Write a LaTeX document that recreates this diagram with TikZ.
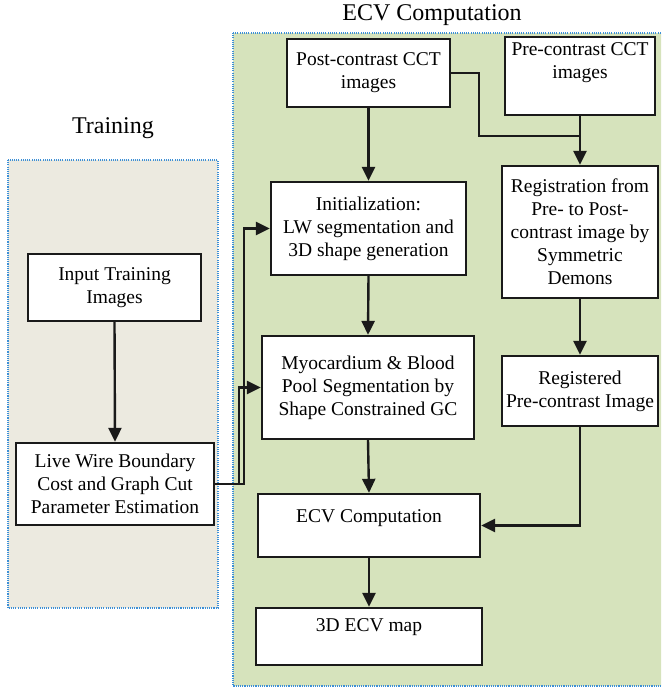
\documentclass[tikz,border=0pt]{standalone}
\usepackage{fontspec}
\setmainfont{Liberation Serif}
\usetikzlibrary{arrows.meta}
\definecolor{panelgreen}{HTML}{D6E3BC}
\definecolor{panelbeige}{HTML}{ECEAE0}
\definecolor{dotblue}{HTML}{3C8FD6}
\definecolor{ink}{HTML}{1A1A1A}
\tikzset{
  box/.style={draw=ink, line width=2.3pt, fill=white, align=center, inner sep=0pt,
    font=\fontsize{19.5}{23}\selectfont},
  txt/.style={inner sep=0pt, align=center, font=\fontsize{19.5}{23}\selectfont},
  ttl/.style={inner sep=0pt, font=\fontsize{24}{28}\selectfont},
  panel/.style={draw=dotblue, line width=1.4pt, dash pattern=on 1.1pt off 1.1pt},
  arr/.style={draw=ink, line width=2.4pt, -{Triangle[length=14pt,width=13pt]}},
  ln/.style={draw=ink, line width=2.4pt},
}
\begin{document}
\begin{tikzpicture}[x=1pt,y=-1pt]
\useasboundingbox (0,0) rectangle (661,687);
\clip (0,0) rectangle (661,687);
% panels
\path[panel, fill=panelbeige] (8,160) rectangle (218,608);
\path[panel, fill=panelgreen] (233,33) rectangle (664,686);
\node[ttl] (ttrain) at (113,128) {Training};
\node[ttl] (tecv) at (432,15) {ECV Computation};
% boxes
\node[box, minimum width=163, minimum height=68] (post) at (368.5,73) {Post-contrast CCT\\images};
\node[box, minimum width=150, minimum height=78] (pre) at (580,76) {Pre-contrast CCT\\images\\[8pt]};
\node[box, minimum width=195, minimum height=93] (init) at (368.5,228.5) {Initialization:\\LW segmentation and\\3D shape generation};
\node[box, minimum width=156, minimum height=132] (reg) at (580,232) {Registration from\\Pre- to Post-\\contrast image by\\Symmetric\\Demons};
\node[box, minimum width=212, minimum height=103] (myo) at (368,387.5) {Myocardium \& Blood\\Pool Segmentation by\\Shape Constrained GC};
\node[box, minimum width=156, minimum height=70] (regd) at (580,391) {Registered\\Pre-contrast Image};
\node[box, minimum width=222, minimum height=63] (ecv) at (369,525.5) {};
\node[txt] (ecvt) at ([yshift=-25]ecv.north) {ECV Computation};
\node[box, minimum width=226, minimum height=57] (map) at (369,636.5) {};
\node[txt] (mapt) at ([yshift=-20]map.north) {3D ECV map};
\node[box, minimum width=173, minimum height=67] (input) at (114.5,287.5) {Input Training\\Images};
\node[box, minimum width=198, minimum height=82] (lw) at (115,484) {Live Wire Boundary\\Cost and Graph Cut\\Parameter Estimation};
% connectors
\coordinate (pj) at (479,136);
\draw[arr] (post.south) -- (init.north);
\draw[ln] (post.east) -| (pj) -- (pj -| reg.north);
\draw[arr] (pre.south) -- (reg.north);
\draw[arr] (reg.south) -- (regd.north);
\draw[arr] (init.south) -- (myo.north);
\draw[arr] (myo.south) -- (ecv.north);
\draw[arr] (regd.south) |- (ecv.east);
\draw[arr] (ecv.south) -- (map.north);
\draw[arr] (input.south) -- (lw.north);
\draw[arr] (lw.east) -- ++(29,0) |- (init.west);
\draw[arr] (lw.east) -- ++(24,0) |- (myo.west);
\end{tikzpicture}
\end{document}
